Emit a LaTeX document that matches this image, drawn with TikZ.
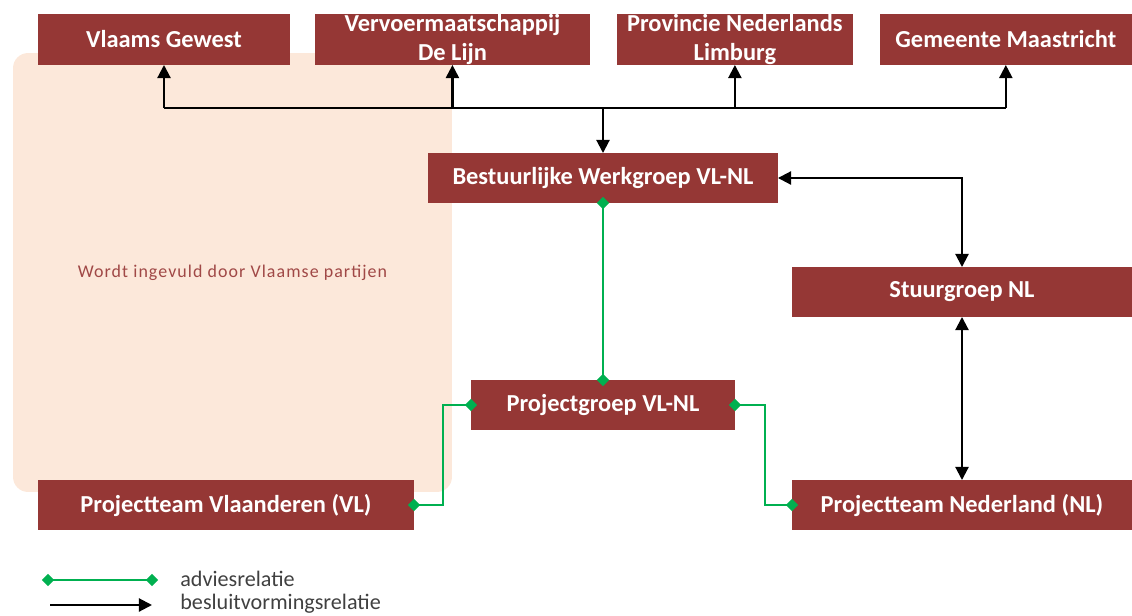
\documentclass[tikz,border=0pt]{standalone}
\usepackage{fontspec}
\setmainfont{Carlito}
\usepackage{xcolor}
\usepackage{tikz}
\usetikzlibrary{positioning,arrows.meta}

\definecolor{boxred}{HTML}{953735}
\definecolor{advgreen}{HTML}{00B050}
\definecolor{partijfill}{HTML}{FCE8DA}
\definecolor{partijtext}{HTML}{A04846}
\definecolor{legendgray}{HTML}{404040}

\begin{document}
\begin{tikzpicture}[
  x=0.02cm, y=-0.02cm,
  node distance=0.5cm and 0.5cm,
  >={Triangle[width=7.5pt,length=7.5pt]},
  orgbox/.style={rectangle, fill=boxred, text=white, align=center, inner sep=0pt, outer sep=0pt,
    minimum height=1.02cm, font=\bfseries\fontsize{13.9}{16}\selectfont},
  partijbox/.style={rectangle, fill=partijfill, rounded corners=0.3cm, minimum width=8.78cm,
    minimum height=8.78cm, text=partijtext, font=\fontsize{10.2}{12}\selectfont\addfontfeature{LetterSpace=6}},
  besluit/.style={->, line width=1.2pt},
  advies/.style={{Diamond[width=7pt,length=7pt]}-{Diamond[width=7pt,length=7pt]}, draw=advgreen,
    line width=0.9pt, shorten <=-3.5pt, shorten >=-3.5pt},
  legtext/.style={anchor=west, text=legendgray, inner sep=0pt, font=\fontsize{12.6}{14}\selectfont}
]
\useasboundingbox (0,0) rectangle (1132,615);

% Vlaamse kant
\node[partijbox] (partijen) at (232.5,272.5) {Wordt ingevuld door Vlaamse partijen};

% bovenste rij
\node[orgbox, minimum width=5.04cm] (vlaams) at (164,39.5) {Vlaams Gewest};
\node[orgbox, minimum width=5.5cm, right=of vlaams] (lijn) {Vervoermaatschappij\\De Lijn};
\node[orgbox, minimum width=4.72cm, right=0.54cm of lijn] (limburg) {Provincie Nederlands\\Limburg};
\node[orgbox, minimum width=5.04cm, right=0.54cm of limburg] (maastricht) {Gemeente Maastricht};

\node[orgbox, minimum width=7cm, minimum height=1cm] (werkgroep) at (603,178) {Bestuurlijke Werkgroep VL-NL};
\node[orgbox, minimum width=6.8cm, minimum height=1cm] (stuurgroep) at (962,292) {Stuurgroep NL};
\node[orgbox, minimum width=5.28cm, minimum height=1cm] (projectgroep) at (603,405) {Projectgroep VL-NL};
\node[orgbox, minimum width=7.52cm, minimum height=1cm] (teamvl) at (226,505) {Projectteam Vlaanderen (VL)};
\node[orgbox, minimum width=6.8cm, minimum height=1cm] (teamnl) at (962,505) {Projectteam Nederland (NL)};

% besluitvorming
\coordinate (bus) at (603,108);
\draw[line width=1.2pt] (vlaams.south |- bus) -- (maastricht.south |- bus);
\foreach \n in {vlaams,lijn,limburg,maastricht}
  \draw[besluit] (\n.south |- bus) -- (\n.south);
\draw[besluit] (bus) -- (werkgroep.north);
\draw[besluit, <->] (werkgroep.east) -| (stuurgroep.north);
\draw[besluit, <->] (stuurgroep.south) -- (teamnl.north);

% advies
\draw[advies] (werkgroep.south) -- (projectgroep.north);
\draw[advies] (projectgroep.west) -- ++(-28,0) |- (teamvl.east);
\draw[advies] (projectgroep.east) -- ++(30,0) |- (teamnl.west);

% legenda
\coordinate (adv_a) at (48,580);
\coordinate (adv_b) at (152,580);
\coordinate (bes_a) at (50,605);
\coordinate (bes_b) at (152,605);
\draw[advies] (adv_a) -- (adv_b);
\draw[besluit] (bes_a) -- (bes_b);
\node[legtext] (adv_txt) at (180,579) {adviesrelatie};
\node[legtext] (bes_txt) at (180,604) {besluitvormingsrelatie};

\end{tikzpicture}
\end{document}
